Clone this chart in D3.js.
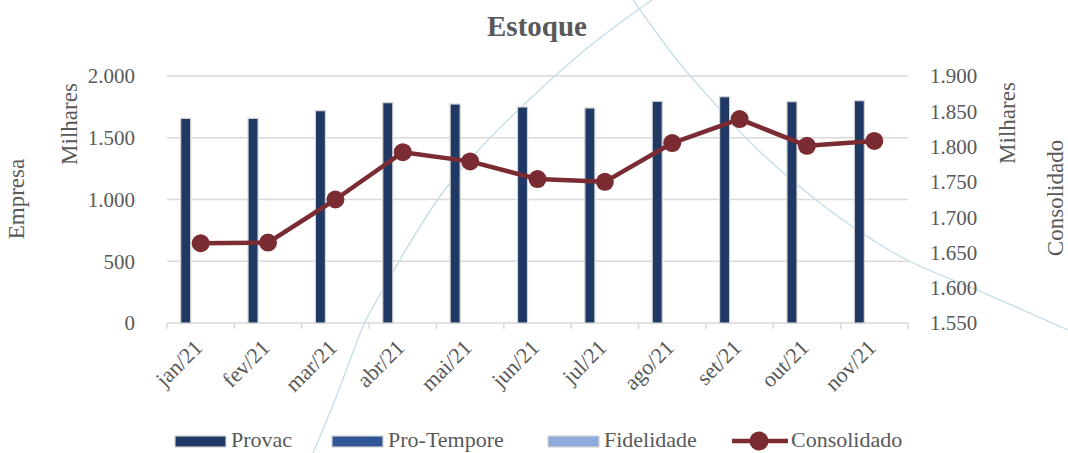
<!DOCTYPE html>
<html><head><meta charset="utf-8">
<script src="https://cdn.jsdelivr.net/npm/d3@7/dist/d3.min.js"></script>
<style>
html,body{margin:0;padding:0;background:#fff;}
svg text{font-family:'Liberation Serif','DejaVu Serif',serif !important;fill:#595959;}
</style></head>
<body><svg id="c" width="1068" height="453"></svg>
<script>
const categories = ["jan/21","fev/21","mar/21","abr/21","mai/21","jun/21","jul/21","ago/21","set/21","out/21","nov/21"];
const provac = [1657,1657,1719,1784,1773,1749,1741,1795,1832,1792,1800];
const proTempore = [0,0,0,0,0,0,0,0,0,0,0];
const fidelidade = [0,0,0,0,0,0,0,0,0,0,0];
const consolidado = [1663,1664,1725,1792,1779,1754,1750,1805,1839,1801,1808];
const leftTicks = [0,500,1000,1500,2000];
const leftTickLabels = ["0","500","1.000","1.500","2.000"];
const rightTicks = [1550,1600,1650,1700,1750,1800,1850,1900];
const rightTickLabels = ["1.550","1.600","1.650","1.700","1.750","1.800","1.850","1.900"];
const seriesNames = ["Provac","Pro-Tempore","Fidelidade"];
const seriesColors = ["#1F3864","#2F5597","#8FAADC"];
const lineColor = "#7B2C33";
const FONT = "'Liberation Serif','DejaVu Serif',serif";

const svg = d3.select("#c");
const L = 167, R = 908, T = 76, B = 323;

// decorative background curves
const deco = d3.line().curve(d3.curveCatmullRom);
svg.append("path").attr("d", deco([[313,453],[335,400],[365,322],[377,300],[450,183],[573,60],[652,0]]))
  .attr("fill","none").attr("stroke","#c3dde7").attr("stroke-width",1.3);
svg.append("path").attr("d", deco([[633,0],[677,60],[700,87],[750,142],[800,187],[853,227],[907,260],[977,290],[1068,330]]))
  .attr("fill","none").attr("stroke","#c3dde7").attr("stroke-width",1.3);

const x = d3.scaleBand().domain(categories).range([L,R]);
const xs = d3.scaleBand().domain(seriesNames).range([-22.5,22.5]);
const yL = d3.scaleLinear().domain([0,2000]).range([B,T]);
const yR = d3.scaleLinear().domain([1550,1900]).range([B,T]);

// gridlines
svg.append("g").selectAll("line").data(leftTicks.slice(1)).join("line")
  .attr("x1",L).attr("x2",R).attr("y1",d=>yL(d)).attr("y2",d=>yL(d))
  .attr("stroke","#d9d9d9").attr("stroke-width",1.5);

// x axis
svg.append("line").attr("x1",L).attr("x2",R).attr("y1",B).attr("y2",B).attr("stroke","#d9d9d9").attr("stroke-width",1.5);
const bounds = categories.map(c=>x(c)).concat([R]);
svg.append("g").selectAll("line").data(bounds).join("line")
  .attr("x1",d=>d).attr("x2",d=>d).attr("y1",B).attr("y2",B+6).attr("stroke","#d9d9d9").attr("stroke-width",1.5);

// bars
const allSeries = [provac, proTempore, fidelidade];
const bw = 10;
allSeries.forEach((vals,si)=>{
  svg.append("g").selectAll("rect").data(vals.map((v,i)=>({v,c:categories[i]})).filter(d=>d.v>0)).join("rect")
    .attr("x",d=>x(d.c)+x.bandwidth()/2+xs(seriesNames[si])+(xs.bandwidth()-bw)/2)
    .attr("y",d=>yL(d.v)).attr("width",bw).attr("height",d=>B-yL(d.v))
    .attr("fill",seriesColors[si]).attr("stroke","#d3d3d3").attr("stroke-width",1.2);
});

// line
const cx = c=>x(c)+x.bandwidth()/2;
svg.append("path").datum(consolidado)
  .attr("d", d3.line().x((d,i)=>cx(categories[i])).y(d=>yR(d)))
  .attr("fill","none").attr("stroke",lineColor).attr("stroke-width",4.5).attr("stroke-linejoin","round");
svg.append("g").selectAll("circle").data(consolidado).join("circle")
  .attr("cx",(d,i)=>cx(categories[i])).attr("cy",d=>yR(d)).attr("r",9).attr("fill",lineColor);

// y axes
const axL = svg.append("g").attr("transform",`translate(${L-29},0)`)
  .call(d3.axisLeft(yL).tickValues(leftTicks).tickSize(0).tickFormat((d,i)=>leftTickLabels[i]));
axL.attr("font-family",FONT);
axL.select(".domain").remove();
axL.selectAll("text").attr("font-size",21).style("font-family",FONT).attr("fill","#595959").attr("dy","0.33em");
const axR = svg.append("g").attr("transform",`translate(${R+22},0)`)
  .call(d3.axisRight(yR).tickValues(rightTicks).tickSize(0).tickFormat((d,i)=>rightTickLabels[i]));
axR.attr("font-family",FONT);
axR.select(".domain").remove();
axR.selectAll("text").attr("font-size",21).style("font-family",FONT).attr("fill","#595959").attr("dy","0.33em").attr("x",0);

// x labels
svg.append("g").selectAll("text").data(categories).join("text")
  .attr("transform",c=>`translate(${cx(c)+3},349) rotate(-45)`)
  .attr("text-anchor","end").attr("font-size",22).style("font-family",FONT).text(c=>c);

// titles
svg.append("text").attr("x",537).attr("y",36).attr("text-anchor","middle").attr("font-size",29).attr("font-weight","bold").style("font-family",FONT).text("Estoque");
function vt(t,xx,yy){ svg.append("text").attr("transform",`translate(${xx},${yy}) rotate(-90)`).attr("text-anchor","middle").attr("font-size",23).style("font-family",FONT).text(t); }
vt("Empresa",24,199);
vt("Milhares",77,124);
vt("Milhares",1015,123);
vt("Consolidado",1063,198);

// legend
const lg = svg.append("g");
const legX = [175,332,548];
seriesNames.forEach((n,i)=>{
  lg.append("rect").attr("x",legX[i]).attr("y",436).attr("width",51).attr("height",11).attr("fill",seriesColors[i]).attr("stroke","#d3d3d3").attr("stroke-width",1.2);
  lg.append("text").attr("x",legX[i]+56).attr("y",447).attr("font-size",22).style("font-family",FONT).text(n);
});
lg.append("line").attr("x1",732).attr("x2",788).attr("y1",441).attr("y2",441).attr("stroke",lineColor).attr("stroke-width",4.5);
lg.append("circle").attr("cx",759).attr("cy",441).attr("r",9.5).attr("fill",lineColor);
lg.append("text").attr("x",791).attr("y",447).attr("font-size",22).style("font-family",FONT).text("Consolidado");
</script></body></html>
